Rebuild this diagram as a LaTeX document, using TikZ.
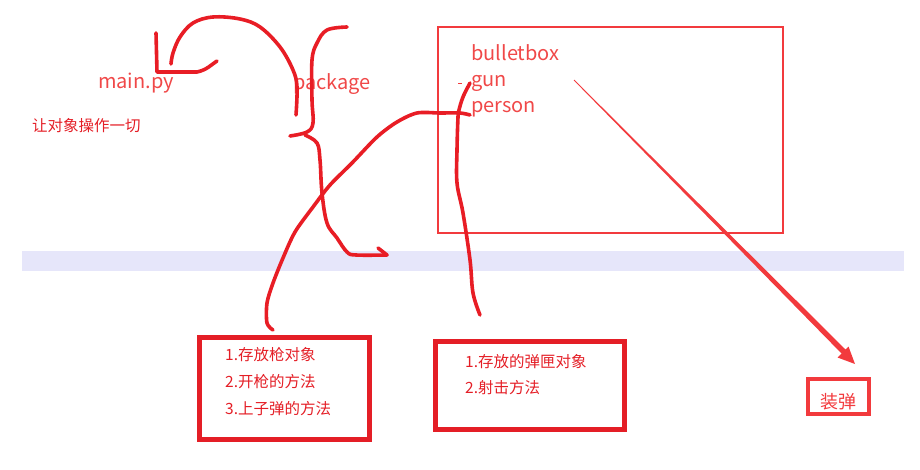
\documentclass[tikz,border=0pt]{standalone}
\usepackage{fontspec}
\setmainfont{Noto Sans CJK SC}
\definecolor{lav}{HTML}{E6E6FA}
\definecolor{boxred}{HTML}{F23A3D}
\definecolor{txtred}{HTML}{F04848}
\definecolor{cnred}{HTML}{E41E26}
\definecolor{handred}{HTML}{E81D25}
\begin{document}
\begin{tikzpicture}[x=1pt,y=-1pt,
  lbl/.style={text=txtred,font=\fontsize{20}{24}\selectfont,inner sep=0pt},
  cn/.style={text=cnred,font=\fontsize{15.5}{18}\selectfont,inner sep=0pt},
  hand/.style={draw=handred,line width=3.6pt,line cap=round,line join=round},
  thickbox/.style={draw=cnred,line width=4.5pt},
]
\useasboundingbox (0,0) rectangle (920,470);
% lavender band
\fill[lav] (22,251) rectangle (904,271);

% big box
\draw[boxred,line width=2.5pt] (438,27) rectangle (783,233);
\node[lbl,anchor=base west] (bb) at (471,61) {bulletbox};
\node[lbl,anchor=base west] (gun) at (471,87) {gun};
\node[lbl,anchor=base west] (person) at (471,112.5) {person};
\draw[boxred,line width=1pt] (458,84) -- (462,84);

% labels
\node[lbl,anchor=base west] (main) at (98,88.5) {main.py};
\node[lbl,anchor=base west] (pkg) at (293,89.5) {package};
\node[cn,anchor=west] (all) at (32,126) {让对象操作一切};

% left box
\draw[thickbox] (199.5,337.5) rectangle (369.5,439.5);
\node[cn,anchor=west] (l1) at (225,355) {1.存放枪对象};
\node[cn,anchor=west] (l2) at (225,382) {2.开枪的方法};
\node[cn,anchor=west] (l3) at (225,408.5) {3.上子弹的方法};

% middle box
\draw[thickbox] (435.5,341.5) rectangle (624.5,429.5);
\node[cn,anchor=west] (m1) at (465,361.5) {1.存放的弹匣对象};
\node[cn,anchor=west] (m2) at (465,388) {2.射击方法};

% load box
\draw[boxred,line width=3.5pt] (808,379) rectangle (869,414);
\node[text=boxred,font=\fontsize{18}{20}\selectfont,inner sep=0pt] (load) at (838.5,402) {装弹};

% tapered arrow
\fill[boxred] (574.3,79.7) -- (847,351) -- (843,355) -- (573.7,80.3) -- cycle;
\fill[boxred] (855,364) -- (848.5,346.5) -- (837.5,357.5) -- cycle;

% hand strokes
\draw[hand] (156,33) -- (157,72) -- (197,72) .. controls (207,70) and (212,64) .. (217,61);
\draw[hand] plot[smooth,tension=0.6] coordinates {(171,64) (173,53) (180,37) (193,23) (213,17) (240,19) (260,27) (280,47) (293,70) (297,87) (296,115)};
\draw[hand] plot[smooth,tension=0.6] coordinates {(347,27) (327,30) (317,43) (312,60) (312,100) (313,123) (307,132) (290,136)};
\draw[hand] plot[smooth,tension=0.6] coordinates {(305,135) (317,143) (320,160) (322,193) (327,223) (337,238) (347,252) (356,255) (387,255)};
\draw[hand] (378,248) -- (387,255);
\draw[hand] plot[smooth,tension=0.5] coordinates {(273,330) (267,323) (267,303) (273,283) (283,258) (295,232) (313,207) (330,185) (352,163) (377,137) (397,122) (417,113) (440,113) (460,113) (470,115)};
\draw[hand] plot[smooth,tension=0.6] coordinates {(470,83) (463,97) (459,110) (458,117) (457,150) (457,183) (463,213) (470,260) (473,293) (480,315)};
\end{tikzpicture}
\end{document}
